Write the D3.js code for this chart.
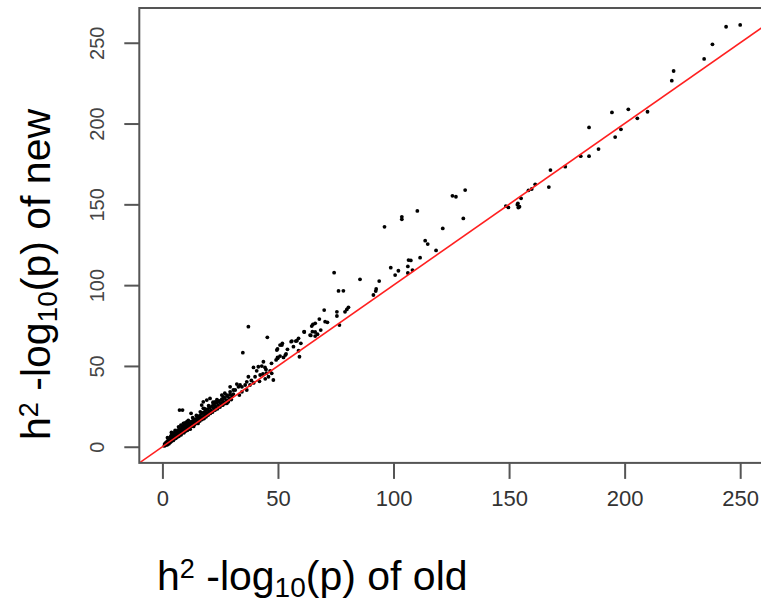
<!DOCTYPE html>
<html><head><meta charset="utf-8">
<script src="https://cdn.jsdelivr.net/npm/d3@7"></script>
<style>
body{margin:0;background:#fff;}
svg{display:block;}
text{font-family:"Liberation Sans",Arial,sans-serif;}
</style></head>
<body><svg id="c" width="761" height="604"></svg>
<script>
// ---- data: [h2 -log10(p) of old, h2 -log10(p) of new] ----
const lowCluster = [[0.8,0.5],[1.0,1.8],[1.2,0.9],[1.5,2.5],[1.7,1.4],[2.0,3.1],[2.1,1.2],[2.3,2.2],[2.5,4.0],[2.6,2.9],[2.8,1.8],[3.0,3.5],[3.1,5.2],[3.3,2.6],[3.5,4.4],[3.6,6.5],[3.8,3.2],[4.0,5.0],[4.1,7.8],[4.3,4.1],[4.5,5.8],[4.7,3.9],[4.9,6.6],[5.0,8.5],[5.2,4.9],[5.4,6.1],[5.6,7.3],[5.8,5.2],[6.0,9.4],[6.1,6.8],[6.3,5.9],[6.5,8.0],[6.7,10.3],[6.9,7.1],[7.1,6.5],[7.3,8.9],[7.5,11.2],[7.7,7.8],[7.9,9.6],[8.1,7.4],[8.3,10.5],[8.5,12.4],[8.7,8.9],[8.9,9.9],[9.1,11.7],[9.3,8.6],[9.5,13.1],[9.7,10.4],[9.9,9.6],[10.2,12.2],[10.4,11.0],[10.6,13.8],[10.8,10.2],[11.0,12.8],[11.3,11.5],[11.5,14.6],[11.8,12.1],[12.0,10.9],[12.2,13.5],[12.5,15.6],[12.8,12.7],[13.0,14.2],[13.3,16.2],[13.5,12.6],[13.8,15.1],[14.0,13.9],[14.3,17.0],[14.6,14.8],[14.9,15.8],[15.2,18.2],[15.4,14.4],[15.7,16.6],[16.0,19.1],[16.2,15.9],[16.5,17.6],[16.8,20.3],[17.1,16.8],[17.4,18.5],[17.7,21.1],[18.0,17.4],[18.3,19.6],[18.6,22.4],[18.9,18.5],[19.2,20.7],[19.5,23.3],[19.8,19.6],[20.1,21.8],[20.4,24.2],[20.7,20.6],[21.0,22.7],[21.4,25.1],[21.7,21.5],[22.0,23.9],[22.4,26.0],[22.7,22.6],[23.0,24.8],[23.4,27.2],[23.8,23.5],[24.1,25.8],[24.5,28.3],[24.9,24.6],[25.3,26.9],[25.7,29.4],[26.1,25.7],[26.5,27.8],[26.9,30.2],[27.3,26.8],[27.7,28.9],[28.1,31.3],[28.5,27.9],[28.9,30.1],[29.3,32.4],[29.8,29.2],[30.2,31.3],[2.2,5.6],[3.9,8.8],[5.5,10.1],[7.0,12.3],[8.0,13.4],[9.8,14.8],[11.2,16.3],[13.1,18.0],[14.7,19.4],[16.4,21.6],[18.2,23.6],[20.0,25.4],[21.9,27.6],[23.6,29.2],[27.0,33.1]];
const midCluster = [[30.7,32.6],[31.5,35.1],[29.3,34],[27.9,32],[26.4,30.9],[25.7,28.9],[24.2,27.8],[22.8,27.8],[17.7,27.8],[32.9,37.1],[34.4,37.1],[35.8,38.2],[37.9,38.2],[36.5,40.2],[37.2,43.3],[34.4,34],[33.3,32],[36.5,35.1],[39.4,49.1],[40.8,47],[41.5,49.5],[42.3,44.4],[40.1,43.3],[46.6,47],[47.3,45.4],[45.9,43.3],[48,41.3],[47.2,51.6],[43.7,52.6],[43,49.9],[44.4,49.1],[49.8,55.3],[50.9,56.1],[54.1,60.3],[53.5,57.4],[51.7,62.9],[45.4,67.7],[34.8,58.2],[37.2,74.3],[7.4,22.7],[8.7,22.7],[12.4,20.7],[17,25.8],[17.7,23.8],[18.5,20.7],[16.3,18.6],[14.9,16.5],[25.7,32],[26.4,30],[27.9,26.9],[10.6,15.5],[9.1,14.5],[12.7,14.5],[32.2,38.8],[33.6,38.2],[29.3,37.1],[30.7,35.1],[20.6,29.9],[19.2,28.9],[22.1,26.9],[44.5,42],[45,45.5],[38.5,41],[39.5,39.5],[42,40.5],[43.5,45],[44.8,47.8]];
const upperMid = [[49.8,60.5],[50.9,62.9],[51.9,64],[56,65.4],[58.2,65.6],[58.9,67.1],[59.9,64],[56.7,61.9],[64.2,68.9],[66.1,71],[67.1,69.6],[68.5,72.2],[61.4,71],[64.6,74.7],[65.1,75.7],[66.1,76.4],[67.9,79],[70.4,77.4],[71.4,77],[76.6,75.3],[75.5,83.5],[75.5,80.9],[79,83.5],[80.5,86.3],[79.8,85],[70,84.6],[76.2,96.4],[78.3,96.5],[74.3,107.7],[85.5,103.6],[59.3,55.7],[58.9,59.4],[55.7,65],[57.7,65.4],[53.2,56.7],[52.4,55.3],[49.9,54.7],[49.2,53.7],[49.5,59.8],[61.3,71.2],[63.9,69.1],[66.1,68.5],[64.9,71.2]];
const highPoints = [[91.3,93.9],[92.3,96.3],[93.8,102.5],[92.5,97.6],[98.8,110.8],[102.1,108.9],[100.7,106.2],[106.2,107.5],[108.2,109.3],[106.2,111.6],[106.5,115.5],[107.5,115.3],[111.5,117],[113.7,127.5],[114.8,125.4],[118.4,121.5],[96.1,136.1],[103.6,142.3],[103.6,140.7],[110.3,145.9],[121.3,135.1],[125.5,155.3],[127,154.7],[130.2,141.3],[131,158.8]];
const topPoints = [[148.6,148.9],[149.7,148.1],[153.6,149.8],[154,148],[154.5,148.5],[153.8,150.6],[155.2,153.7],[158.4,158.7],[159.8,159.5],[161.3,162.4],[167.2,160.7],[167.9,171.2],[174.3,173.3],[181,179.8],[184.6,179.8],[188.7,184.2],[184.6,197.6],[195.9,191.6],[198.4,196.4],[194.5,206.9],[201.6,208.8],[205.5,203.2],[209.9,207.3],[220.4,226.5],[221.2,232.5],[234.4,240],[238,249],[243.9,259.9],[250,261]];
const xTicks = [0, 50, 100, 150, 200, 250];
const yTicks = [0, 50, 100, 150, 200, 250];
const xDomain = [-10, 260];
const yDomain = [-10, 271.5];
const refLine = [-10, 280]; // y = x

const points = [].concat(lowCluster, midCluster, upperMid, highPoints, topPoints);

const svg = d3.select("#c");
const L = 139.3, R = 763.3, T = 8, B = 462.9;
const x = d3.scaleLinear().domain(xDomain).range([L, R]);
const y = d3.scaleLinear().domain(yDomain).range([B, T]);
const axisCol = "#555";

svg.append("defs").append("clipPath").attr("id","clip")
  .append("rect").attr("x",L).attr("y",T).attr("width",R-L).attr("height",B-T);

// points
svg.append("g").selectAll("circle").data(points).join("circle")
  .attr("cx", d => x(d[0])).attr("cy", d => y(d[1])).attr("r", 1.9).attr("fill", "#000");

// y = x reference line
svg.append("line").attr("clip-path","url(#clip)")
  .attr("x1", x(refLine[0])).attr("y1", y(refLine[0]))
  .attr("x2", x(refLine[1])).attr("y2", y(refLine[1]))
  .attr("stroke", "#ff2020").attr("stroke-width", 1.6);

// box
svg.append("rect").attr("x",L).attr("y",T).attr("width",R-L).attr("height",B-T)
  .attr("fill","none").attr("stroke",axisCol).attr("stroke-width",2);

// x axis
const gx = svg.append("g").attr("transform", `translate(0,${B})`)
  .call(d3.axisBottom(x).tickValues(xTicks).tickSize(16).tickPadding(11).tickSizeOuter(0));
gx.select(".domain").remove();
gx.selectAll(".tick line").attr("stroke", axisCol).attr("stroke-width", 2);
gx.selectAll(".tick text").attr("font-size", 22).attr("fill", "#333")
  .attr("font-family", "'Liberation Sans Narrow','Liberation Sans',Arial,sans-serif");

// y axis
const gy = svg.append("g").attr("transform", `translate(${L},0)`)
  .call(d3.axisLeft(y).tickValues(yTicks).tickSize(15).tickSizeOuter(0));
gy.select(".domain").remove();
gy.selectAll(".tick line").attr("stroke", axisCol).attr("stroke-width", 2);
gy.selectAll(".tick text").attr("font-size", 20).attr("fill", "#444")
  .attr("x", null).attr("dy", null).attr("text-anchor", "middle")
  .attr("font-family", "'Liberation Sans Narrow','Liberation Sans',Arial,sans-serif")
  .attr("transform", "translate(-35,0) rotate(-90)");

// axis titles
function title(g, word) {
  const t = g.append("text").attr("font-size", 41).attr("fill", "#000");
  t.append("tspan").text("h");
  t.append("tspan").attr("font-size", 27).attr("dy", -12).text("2");
  t.append("tspan").attr("dy", 12).text(" -log");
  t.append("tspan").attr("font-size", 28).attr("dy", 7).text("10");
  t.append("tspan").attr("dy", -7).text("(p) of " + word);
  return t;
}
title(svg.append("g").attr("transform", "translate(157,590)"), "old");
title(svg.append("g").attr("transform", "translate(50,440) rotate(-90)"), "new");
</script></body></html>
